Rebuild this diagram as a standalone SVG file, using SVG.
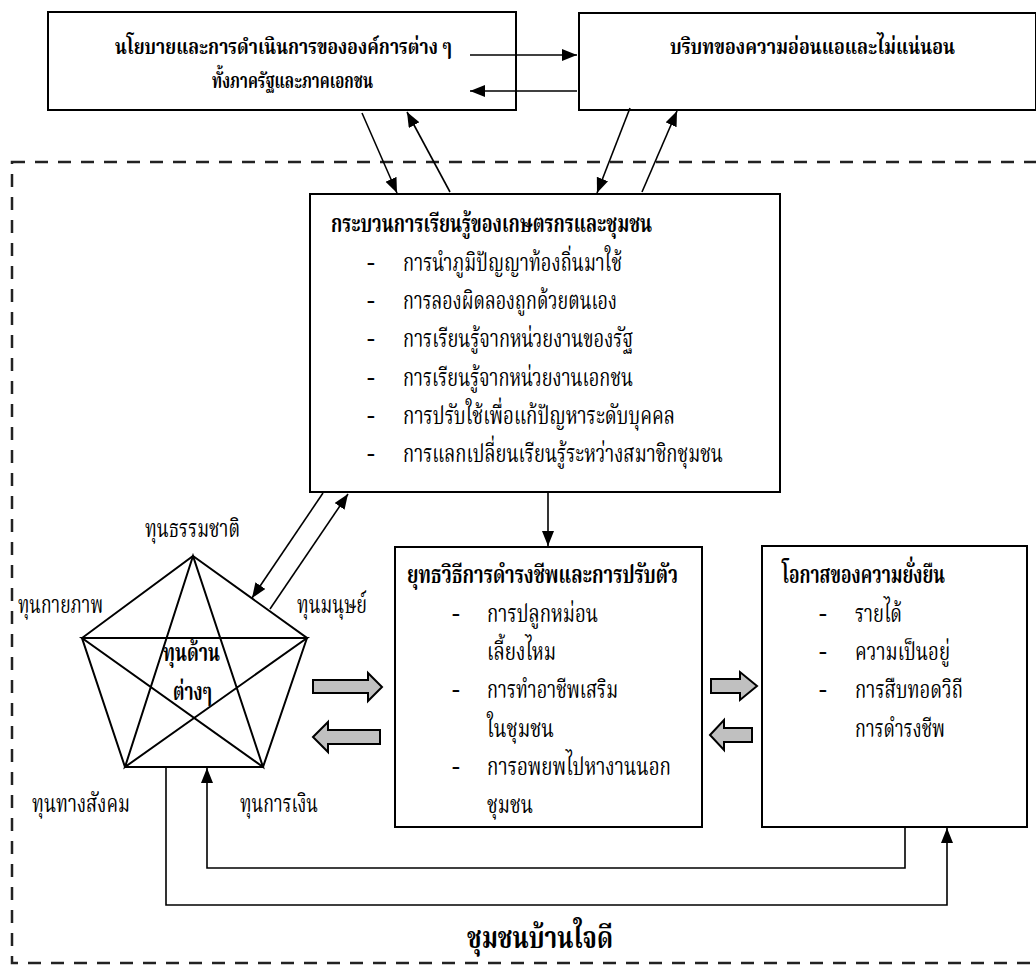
<svg xmlns="http://www.w3.org/2000/svg" width="1036" height="967" viewBox="0 0 1036 967">
<style>
.box{fill:#fff;stroke:#000;stroke-width:2}
.t{font-family:'Noto Serif Thai','Noto Sans Thai','Liberation Serif',serif;font-size:25px;fill:#000}
.b{font-weight:bold}
.s{font-size:22px}
.ln{stroke:#000;stroke-width:1.6;fill:none}
.blk{fill:#c0c0c0;stroke:#000;stroke-width:2}
.pent{stroke:#000;stroke-width:2;fill:none}
</style>
<defs>
<marker id="ah" markerUnits="userSpaceOnUse" markerWidth="16" markerHeight="14" refX="15" refY="6" orient="auto">
<path d="M0,0 L15,6 L0,12 Z" fill="#000"/>
</marker>
</defs>
<rect x="12" y="162" width="1040" height="801" fill="none" stroke="#222" stroke-width="2.5" stroke-dasharray="13 10"/>

<g id="policy">
<rect class="box" x="48" y="12" width="468" height="98"/>
<text class="t b s" x="115" y="54" textLength="337" lengthAdjust="spacingAndGlyphs">นโยบายและการดำเนินการขององค์การต่าง ๆ</text>
<text class="t b s" x="212" y="88" textLength="161" lengthAdjust="spacingAndGlyphs">ทั้งภาครัฐและภาคเอกชน</text>
</g>
<g id="context">
<rect class="box" x="579" y="13" width="457" height="97"/>
<text class="t b s" x="670" y="54" textLength="285" lengthAdjust="spacingAndGlyphs">บริบทของความอ่อนแอและไม่แน่นอน</text>
</g>
<g id="learning">
<rect class="box" x="310" y="194" width="470" height="298"/>
<text class="t b" x="331" y="232" textLength="321" lengthAdjust="spacingAndGlyphs">กระบวนการเรียนรู้ของเกษตรกรและชุมชน</text>
<text class="t" x="367" y="271">-</text><text class="t" x="403" y="271" textLength="219" lengthAdjust="spacingAndGlyphs">การนำภูมิปัญญาท้องถิ่นมาใช้</text>
<text class="t" x="367" y="309">-</text><text class="t" x="403" y="309" textLength="214" lengthAdjust="spacingAndGlyphs">การลองผิดลองถูกด้วยตนเอง</text>
<text class="t" x="367" y="347">-</text><text class="t" x="403" y="347" textLength="230" lengthAdjust="spacingAndGlyphs">การเรียนรู้จากหน่วยงานของรัฐ</text>
<text class="t" x="367" y="386">-</text><text class="t" x="403" y="386" textLength="230" lengthAdjust="spacingAndGlyphs">การเรียนรู้จากหน่วยงานเอกชน</text>
<text class="t" x="367" y="424">-</text><text class="t" x="403" y="424" textLength="272" lengthAdjust="spacingAndGlyphs">การปรับใช้เพื่อแก้ปัญหาระดับบุคคล</text>
<text class="t" x="367" y="462">-</text><text class="t" x="403" y="462" textLength="320" lengthAdjust="spacingAndGlyphs">การแลกเปลี่ยนเรียนรู้ระหว่างสมาชิกชุมชน</text>
</g>
<g id="strategy">
<rect class="box" x="395" y="547" width="307" height="280"/>
<text class="t b" x="407" y="583" textLength="271" lengthAdjust="spacingAndGlyphs">ยุทธวิธีการดำรงชีพและการปรับตัว</text>
<text class="t" x="452" y="622">-</text><text class="t" x="487" y="622" textLength="111" lengthAdjust="spacingAndGlyphs">การปลูกหม่อน</text>
<text class="t" x="487" y="660" textLength="69" lengthAdjust="spacingAndGlyphs">เลี้ยงไหม</text>
<text class="t" x="452" y="698">-</text><text class="t" x="487" y="698" textLength="131" lengthAdjust="spacingAndGlyphs">การทำอาชีพเสริม</text>
<text class="t" x="487" y="737" textLength="67" lengthAdjust="spacingAndGlyphs">ในชุมชน</text>
<text class="t" x="452" y="775">-</text><text class="t" x="487" y="775" textLength="184" lengthAdjust="spacingAndGlyphs">การอพยพไปหางานนอก</text>
<text class="t" x="487" y="813" textLength="46" lengthAdjust="spacingAndGlyphs">ชุมชน</text>
</g>
<g id="sustain">
<rect class="box" x="762" y="546" width="265" height="281"/>
<text class="t b" x="782" y="583" textLength="163" lengthAdjust="spacingAndGlyphs">โอกาสของความยั่งยืน</text>
<text class="t" x="819" y="622">-</text><text class="t" x="855" y="622" textLength="47" lengthAdjust="spacingAndGlyphs">รายได้</text>
<text class="t" x="819" y="660">-</text><text class="t" x="855" y="660" textLength="95" lengthAdjust="spacingAndGlyphs">ความเป็นอยู่</text>
<text class="t" x="819" y="698">-</text><text class="t" x="855" y="698" textLength="108" lengthAdjust="spacingAndGlyphs">การสืบทอดวิถี</text>
<text class="t" x="855" y="737" textLength="90" lengthAdjust="spacingAndGlyphs">การดำรงชีพ</text>
</g>
<g id="capitals">
<path class="pent" d="M193,556 L307,638 L263,767 L125,767 L82,638 Z"/>
<path class="pent" d="M193,556 L125,767 L307,638 L82,638 L263,767 Z"/>
<text class="t b" x="163" y="661" textLength="57" lengthAdjust="spacingAndGlyphs">ทุนด้าน</text>
<text class="t b" x="173" y="700" textLength="39" lengthAdjust="spacingAndGlyphs">ต่างๆ</text>
<text class="t" x="145" y="537" textLength="95" lengthAdjust="spacingAndGlyphs">ทุนธรรมชาติ</text>
<text class="t" x="18" y="613" textLength="85" lengthAdjust="spacingAndGlyphs">ทุนกายภาพ</text>
<text class="t" x="297" y="613" textLength="70" lengthAdjust="spacingAndGlyphs">ทุนมนุษย์</text>
<text class="t" x="32" y="812" textLength="98" lengthAdjust="spacingAndGlyphs">ทุนทางสังคม</text>
<text class="t" x="240" y="812" textLength="78" lengthAdjust="spacingAndGlyphs">ทุนการเงิน</text>
</g>
<g id="community-label">
<text class="t b" x="467" y="948" style="font-size:30px" textLength="146" lengthAdjust="spacingAndGlyphs">ชุมชนบ้านใจดี</text>
</g>
<g id="connectors">
<line class="ln" x1="470" y1="55" x2="577" y2="55" marker-end="url(#ah)"/>
<line class="ln" x1="577" y1="91" x2="470" y2="91" marker-end="url(#ah)"/>
<line class="ln" x1="362" y1="113" x2="397" y2="193" marker-end="url(#ah)"/>
<line class="ln" x1="450" y1="192" x2="407" y2="112" marker-end="url(#ah)"/>
<line class="ln" x1="630" y1="108" x2="597" y2="193" marker-end="url(#ah)"/>
<line class="ln" x1="642" y1="192" x2="677" y2="111" marker-end="url(#ah)"/>
<line class="ln" x1="323" y1="493" x2="252" y2="598" marker-end="url(#ah)"/>
<line class="ln" x1="270" y1="609" x2="348" y2="494" marker-end="url(#ah)"/>
<line class="ln" x1="548" y1="492" x2="548" y2="546" marker-end="url(#ah)"/>
<polyline class="ln" points="905,827 905,868 207,868 207,768" marker-end="url(#ah)"/>
<polyline class="ln" points="166,767 166,905 947,905 947,828" marker-end="url(#ah)"/>
<polygon class="blk" points="313,680 368,680 368,673 382,687 368,701 368,693 313,693"/>
<polygon class="blk" points="313,737 328,722 328,730 380,730 380,744 328,744 328,752"/>
<polygon class="blk" points="711,679 740,679 740,672 757,686 740,700 740,693 711,693"/>
<polygon class="blk" points="710,735 724,720 724,728 752,728 752,742 724,742 724,750"/>
</g>
</svg>
